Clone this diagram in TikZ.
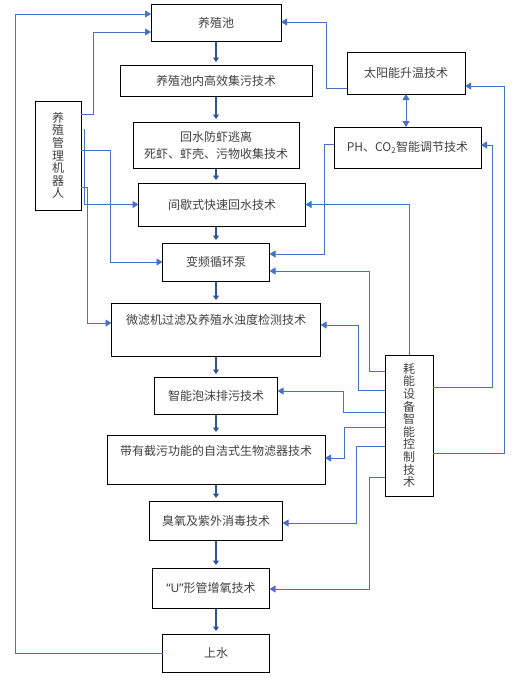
\documentclass[tikz,border=0pt]{standalone}
\usepackage{fontspec}
\setmainfont{Noto Sans CJK SC}
\newfontfamily\latinfont{Noto Sans}
\usepackage{tikz}
\usetikzlibrary{arrows.meta, positioning}
\definecolor{flowblue}{RGB}{47,85,151}
\definecolor{linkblue}{RGB}{68,114,196}
\definecolor{textgray}{RGB}{64,64,64}

\begin{document}
\begin{tikzpicture}[
  x=1pt, y=-1pt,
  >={Triangle[width=7pt,length=6pt]},
  box/.style={rectangle, draw=black, line width=1pt, outer sep=0pt, align=center,
              text=textgray, font=\fontsize{12}{17}\selectfont},
  vbox/.style={box, font=\fontsize{12}{12.6}\selectfont},
  flow/.style={-{Triangle[width=6pt,length=4.5pt]}, line width=2.8pt, color=flowblue,
               shorten <=1pt, shorten >=3pt},
  link/.style={->, line width=0.8pt, color=linkblue}
]
  \useasboundingbox (0,0) rectangle (525,688);

  \node[box, minimum width=130pt, minimum height=37pt] (pool) at (216,22.5) {养殖池};
  \node[box, minimum width=192pt, minimum height=31pt, below=24pt of pool] (collect) {养殖池内高效集污技术};
  \node[box, minimum width=166pt, minimum height=46pt, below=26pt of collect] (escape) {回水防虾逃离\\死虾、虾壳、污物收集技术};
  \node[box, minimum width=167pt, minimum height=43pt, below=15pt of escape, xshift=6pt] (recycle) {间歇式快速回水技术};
  \node[box, minimum width=107pt, minimum height=38pt, below=17pt of recycle, xshift=-6pt] (pump) {变频循环泵};
  \node[box, minimum width=209pt, minimum height=53pt, text height=10pt, text depth=20pt, below=22pt of pump] (filter) {微滤机过滤及养殖水浊度检测技术};
  \node[box, minimum width=123pt, minimum height=37pt, below=21pt of filter] (foam) {智能泡沫排污技术};
  \node[box, minimum width=218pt, minimum height=49pt, text height=10pt, text depth=18pt, below=21pt of foam] (bio) {带有截污功能的自洁式生物滤器技术};
  \node[box, minimum width=133pt, minimum height=39pt, below=17pt of bio] (ozone) {臭氧及紫外消毒技术};
  \node[box, minimum width=117pt, minimum height=40pt, below=28pt of ozone, xshift=-5pt] (utube) {{\latinfont “U”}形管增氧技术};
  \node[box, minimum width=107pt, minimum height=38pt, below=26pt of utube, xshift=5pt] (supply) {上水};

  \node[vbox, minimum width=46pt, minimum height=109pt] (robot) at (58,155.5) {养\\殖\\管\\理\\机\\器\\人};
  \node[box, minimum width=118pt, minimum height=42pt] (solar) at (406,73) {太阳能升温技术};
  \node[box, minimum width=147pt, minimum height=41pt] (phco) at (407.5,147.5) {PH、CO\textsubscript{2}智能调节技术};
  \node[vbox, minimum width=48pt, minimum height=141pt] (ctrl) at (409,425.5) {耗\\能\\设\\备\\智\\能\\控\\制\\技\\术};
  \coordinate (rtap) at (84,129);

  \draw[flow] (pool.south) -- (pool.south |- collect.north);
  \draw[flow] (collect.south) -- (collect.south |- escape.north);
  \draw[flow] (escape.south) -- (escape.south |- recycle.north);
  \draw[flow] (escape.south |- recycle.south) -- (pump.north);
  \draw[flow] (pump.south) -- (pump.south |- filter.north);
  \draw[flow] (filter.south) -- (filter.south |- foam.north);
  \draw[flow] (foam.south) -- (foam.south |- bio.north);
  \draw[flow] (bio.south) -- (bio.south |- ozone.north);
  \draw[flow] (ozone.south) -- (ozone.south |- utube.north);
  \draw[flow] (ozone.south |- utube.south) -- (supply.north);

  \draw[link] (supply.west) -| (15,14) -- (pool.west |- 15,14);
  \draw[link] (robot.east |- 0,114) -| (93,32) -- (pool.west |- 0,32);
  \draw[link] (rtap) |- (recycle.west);
  \draw[link] (robot.east |- 0,150) -| (110,262) -- (pump.west);
  \draw[link] (robot.east |- 0,187) -| (87,323) -- (filter.west |- 0,323);

  \draw[link] (solar.west |- 0,88) -| (326,22) -- (pool.east |- 0,22);
  \draw[link, <->] (solar.south) -- (solar.south |- phco.north);
  \draw[link] (phco.west |- 0,144) -| (324,254) -- (pump.east |- 0,254);

  \draw[link] (ctrl.north) |- (recycle.east);
  \draw[link] (ctrl.east |- 0,387) -| (492,145) -- (phco.east |- 0,145);
  \draw[link] (ctrl.east |- 0,453) -| (504,86) -- (solar.east |- 0,86);
  \draw[link] (ctrl.west |- 0,371) -| (369,271) -- (pump.east |- 0,271);
  \draw[link] (ctrl.west |- 0,390) -| (358,325) -- (filter.east |- 0,325);
  \draw[link] (ctrl.west |- 0,412) -| (343,391) -- (foam.east |- 0,391);
  \draw[link] (ctrl.west |- 0,427) -| (344,458) -- (bio.east |- 0,458);
  \draw[link] (ctrl.west |- 0,446) -| (356,523) -- (ozone.east |- 0,523);
  \draw[link] (ctrl.west |- 0,477) -| (369,589) -- (utube.east |- 0,589);
\end{tikzpicture}
\end{document}
